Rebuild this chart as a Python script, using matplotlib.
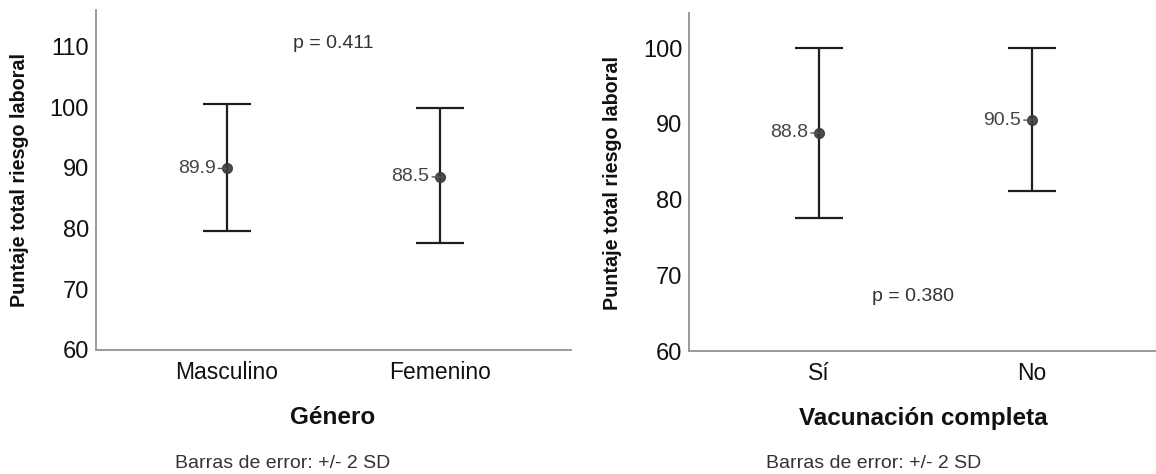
import matplotlib
matplotlib.use("Agg")
import matplotlib.pyplot as plt

plt.rcParams['font.family'] = ['Liberation Sans', 'DejaVu Sans']

# ---- data ----
cats_gen = ['Masculino', 'Femenino']
mean_gen = [89.9, 88.5]
low_gen = [79.6, 77.6]
high_gen = [100.6, 99.8]
p_gen = 'p = 0.411'

cats_vac = ['Sí', 'No']
mean_vac = [88.8, 90.5]
low_vac = [77.6, 81.2]
high_vac = [100.0, 100.0]
p_vac = 'p = 0.380'

yticks_gen = [60, 70, 80, 90, 100, 110]
yticks_vac = [60, 70, 80, 90, 100]

W, H = 1156, 474
fig = plt.figure(figsize=(W / 100, H / 100), dpi=100)


def fx(px):
    return px / W


def fy(py):
    return 1 - py / H


def panel(rect, cats, means, lows, highs, ylim, yticks, ptxt, ppos):
    ax = fig.add_axes(rect)
    x = list(range(len(cats)))
    yerr = [[m - l for m, l in zip(means, lows)], [h - m for m, h in zip(means, highs)]]
    ax.errorbar(x, means, yerr=yerr, fmt='none', ecolor='#1e1e1e',
                elinewidth=1.6, capsize=17, capthick=1.6, zorder=2)
    ax.plot(x, means, 'o', color='#3a3a3a', markersize=7, alpha=0.9, zorder=3)
    for xi, m in zip(x, means):
        ax.annotate(f'{m:.1f}', xy=(xi, m), xytext=(-8, 0), textcoords='offset points',
                    ha='right', va='center', fontsize=14, color='#444444',
                    arrowprops=dict(arrowstyle='-', color='#555555', lw=1.0,
                                    shrinkA=0, shrinkB=0))
    ax.text(ppos[0], ppos[1], ptxt, ha='center', va='center', fontsize=14, color='#333333')
    ax.set_xlim(-0.61, 1.61)
    ax.set_ylim(*ylim)
    ax.set_xticks(x)
    ax.set_xticklabels(cats, fontsize=16.5, color='#111111')
    ax.set_yticks(yticks)
    ax.set_yticklabels([str(t) for t in yticks], fontsize=17, color='#111111')
    ax.tick_params(axis='both', length=0)
    ax.tick_params(axis='y', pad=5)
    ax.tick_params(axis='x', pad=8)
    for s in ['top', 'right']:
        ax.spines[s].set_visible(False)
    for s in ['left', 'bottom']:
        ax.spines[s].set_color('#9a9a9a')
        ax.spines[s].set_linewidth(1.4)
    return ax


# left panel
panel([fx(96), fy(350), fx(571) - fx(96), fy(10) - fy(350)],
      cats_gen, mean_gen, low_gen, high_gen, (60, 116.0), yticks_gen,
      p_gen, (0.5, 110.55))

# right panel
panel([fx(689.3), fy(351), fx(1162) - fx(689.3), fy(13) - fy(351)],
      cats_vac, mean_vac, low_vac, high_vac, (60, 104.65), yticks_vac,
      p_vac, (0.44, 67.2))

# axis titles
fig.text(fx(19.6), fy(180), 'Puntaje total riesgo laboral', rotation=90,
         ha='center', va='center', fontsize=14.2, fontweight='bold', color='#111111')
fig.text(fx(612), fy(182.5), 'Puntaje total riesgo laboral', rotation=90,
         ha='center', va='center', fontsize=14.2, fontweight='bold', color='#111111')
fig.text(fx(333), fy(418), 'Género', ha='center', va='center',
         fontsize=17.5, fontweight='bold', color='#111111')
fig.text(fx(923), fy(418), 'Vacunación completa', ha='center', va='center',
         fontsize=17.5, fontweight='bold', color='#111111')

# footnotes
fig.text(fx(283), fy(463), 'Barras de error: +/- 2 SD', ha='center', va='center',
         fontsize=14, color='#333333')
fig.text(fx(874), fy(463), 'Barras de error: +/- 2 SD', ha='center', va='center',
         fontsize=14, color='#333333')

fig.savefig('out.png', dpi=100)
